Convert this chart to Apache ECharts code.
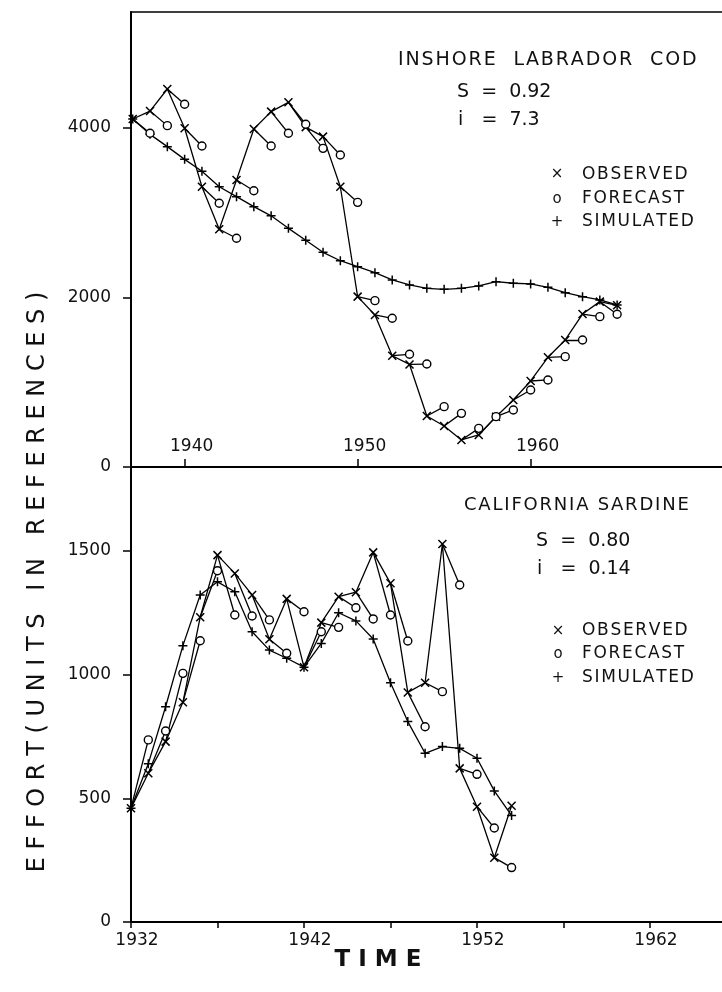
<!DOCTYPE html>
<html>
<head>
<meta charset="utf-8">
<script src="https://cdn.jsdelivr.net/npm/echarts@6/dist/echarts.min.js"></script>
<style>
    html, body { margin: 0; padding: 0; background: #fff; }
    #chart { width: 722px; height: 992px; }
</style>
</head>
<body>
<div id="chart"></div>
<script>
    // inshore labrador cod, one value a year
    var codYears = [1937, 1938, 1939, 1940, 1941, 1942, 1943, 1944, 1945, 1946, 1947, 1948, 1949, 1950, 1951,
        1952, 1953, 1954, 1955, 1956, 1957, 1958, 1959, 1960, 1961, 1962, 1963, 1964, 1965];
    var codObserved = [4106, 4200, 4460, 3997, 3307, 2805, 3387, 3988, 4193, 4303, 4010, 3898, 3307, 2010, 1794,
        1313, 1210, 602, 484, 319, 378, 594, 791, 1015, 1294, 1499, 1805, 1951, 1908];
    // forecast for 1938..1965, made from the year before
    var codForecast = [3938, 4028, 4280, 3788, 3112, 2699, 3260, 3788, 3938, 4044, 3760, 3682, 3123, 1963,
        1755, 1330, 1215, 712, 633, 456, 594, 673, 909, 1027, 1302, 1499, 1774, 1802];
    var codSimulated = [4106, 3925, 3780, 3630, 3490, 3307, 3190, 3072, 2964, 2816, 2675, 2533, 2434, 2363, 2293,
        2207, 2148, 2108, 2097, 2108, 2136, 2187, 2168, 2160, 2120, 2057, 2010, 1971, 1912];

    // california sardine
    var sardYears = [1932, 1933, 1934, 1935, 1936, 1937, 1938, 1939, 1940, 1941, 1942, 1943, 1944, 1945, 1946,
        1947, 1948, 1949, 1950, 1951, 1952, 1953, 1954];
    var sardObserved = [460, 601, 729, 888, 1232, 1483, 1409, 1322, 1143, 1306, 1030, 1210, 1315, 1333, 1494,
        1369, 928, 967, 1528, 621, 466, 260, 470];
    // forecast for 1933..1954
    var sardForecast = [736, 772, 1005, 1137, 1420, 1241, 1237, 1221, 1086, 1254, 1173, 1191, 1270, 1225,
        1241, 1136, 789, 931, 1362, 597, 380, 220];
    var sardSimulated = [460, 640, 870, 1117, 1322, 1375, 1335, 1173, 1099, 1066, 1030, 1126, 1250, 1217, 1144,
        967, 810, 682, 709, 702, 662, 530, 430];

    var codYTicks = [0, 2000, 4000];
    var codXTicks = [1940, 1950, 1960];
    var sardYTicks = [0, 500, 1000, 1500];
    var sardXLabels = [1932, 1942, 1952, 1962];
    var sardXTicks = [1932, 1937, 1942, 1947, 1952, 1957, 1962];

    var chart = echarts.init(document.getElementById('chart'), null, {renderer: 'canvas'});

    var FONT = 'DejaVu Sans';
    var CROSS = 'path://M0,0L10,10M10,0L0,10';
    var PLUS = 'path://M5,0L5,10M0,5L10,5';
    var PX_PER_YEAR = 17.3;
    var PLOT_W = 591;

    function pairs(xs, ys) {
        var out = [];
        for (var i = 0; i < xs.length; i++) out.push([xs[i], ys[i]]);
        return out;
    }
    // short segment from last year's observed point to this year's forecast
    function fcSegments(xs, obs, fc) {
        var out = [];
        for (var i = 1; i < xs.length; i++) {
            out.push({coords: [[xs[i - 1], obs[i - 1]], [xs[i], fc[i - 1]]]});
        }
        return out;
    }
    // the lettering in the figure is widely spaced
    function spaced(s) {
        return s.split('').join('\u200A');
    }
    function plain(v) { return String(v); }

    function xAxisBase(grid, min) {
        return {
            type: 'value', gridIndex: grid, min: min, max: min + PLOT_W / PX_PER_YEAR,
            splitLine: {show: false},
            axisLine: {show: true, onZero: false, lineStyle: {color: '#000', width: 2}}
        };
    }
    function yAxisBase(grid, max, ticks) {
        return {
            type: 'value', gridIndex: grid, min: 0, max: max,
            splitLine: {show: false},
            axisLine: {show: true, onZero: false, lineStyle: {color: '#000', width: 2}},
            axisTick: {show: true, length: 8, customValues: ticks, lineStyle: {color: '#000', width: 1.5}},
            axisLabel: {customValues: ticks, formatter: plain, margin: 20, fontSize: 17, fontFamily: FONT, color: '#111'}
        };
    }

    var codX = xAxisBase(0, 1936.9);
    codX.axisTick = {show: true, inside: true, length: 8, customValues: codXTicks, lineStyle: {color: '#000', width: 1.5}};
    codX.axisLabel = {inside: true, customValues: codXTicks, formatter: plain, margin: 12, fontSize: 17,
        fontFamily: FONT, color: '#111', padding: [0, 0, 0, 14]};

    var sardX = xAxisBase(1, 1932);
    sardX.axisTick = {show: true, length: 6, customValues: sardXTicks, lineStyle: {color: '#000', width: 1.5}};
    sardX.axisLabel = {customValues: sardXLabels, formatter: plain, margin: 10, fontSize: 17,
        fontFamily: FONT, color: '#111', padding: [0, 0, 0, 12]};

    // top edge of the upper frame
    var codTop = xAxisBase(0, 1936.9);
    codTop.position = 'top';
    codTop.axisLine.lineStyle.width = 1.5;
    codTop.axisTick = {show: false};
    codTop.axisLabel = {show: false};

    var lineStyle = {color: '#000', width: 1.3};
    var markStyle = {color: '#000', borderColor: '#000', borderWidth: 1.5};

    function panelSeries(xi, yi, xs, obs, fc, sim) {
        return [
            {
                type: 'line', xAxisIndex: xi, yAxisIndex: yi, data: pairs(xs, sim),
                symbol: PLUS, symbolSize: 9, lineStyle: lineStyle, itemStyle: markStyle, z: 3, silent: true
            },
            {
                type: 'line', xAxisIndex: xi, yAxisIndex: yi, data: pairs(xs, obs),
                symbol: CROSS, symbolSize: 8, lineStyle: lineStyle, itemStyle: markStyle, z: 4, silent: true
            },
            {
                type: 'lines', coordinateSystem: 'cartesian2d', xAxisIndex: xi, yAxisIndex: yi,
                data: fcSegments(xs, obs, fc), lineStyle: {color: '#000', width: 1.3, opacity: 1}, z: 4, silent: true
            },
            {
                type: 'scatter', xAxisIndex: xi, yAxisIndex: yi, data: pairs(xs.slice(1), fc),
                symbol: 'circle', symbolSize: 8, itemStyle: {color: '#fff', borderColor: '#000', borderWidth: 1.4, opacity: 1},
                z: 5, silent: true
            }
        ];
    }

    function txt(x, y, s, size, extra) {
        var st = {text: s, x: 0, y: 0, fill: '#111', font: (size || 19) + 'px "' + FONT + '"', verticalAlign: 'middle'};
        if (extra) for (var k in extra) st[k] = extra[k];
        return {type: 'text', x: x, y: y, style: st, z: 10};
    }

    var options = {
        animation: false,
        backgroundColor: '#fff',
        grid: [
            {left: 131, right: 0, top: 12, height: 455},
            {left: 131, right: 0, top: 467, height: 455}
        ],
        xAxis: [codX, sardX, codTop],
        yAxis: [
            yAxisBase(0, 455 / 169.5 * 2000, codYTicks),
            yAxisBase(1, 455 / 123.7 * 500, sardYTicks)
        ],
        series: panelSeries(0, 0, codYears, codObserved, codForecast, codSimulated)
            .concat(panelSeries(1, 1, sardYears, sardObserved, sardForecast, sardSimulated)),
        graphic: [
            txt(398, 60, spaced('INSHORE  LABRADOR  COD')),
            txt(457, 92, 'S  =  0.92'),
            txt(458, 120, 'i   =  7.3'),
            txt(557, 174, '×', 15, {align: 'center'}),
            txt(557, 199, 'o', 15, {align: 'center'}),
            txt(557, 222, '+', 15, {align: 'center'}),
            txt(582, 175, spaced('OBSERVED'), 17),
            txt(582, 199, spaced('FORECAST'), 17),
            txt(582, 222, spaced('SIMULATED'), 17),

            txt(464, 505, spaced('CALIFORNIA SARDINE'), 18),
            txt(536, 541, 'S  =  0.80'),
            txt(537, 569, 'i   =  0.14'),
            txt(558, 631, '×', 15, {align: 'center'}),
            txt(558, 654, 'o', 15, {align: 'center'}),
            txt(558, 678, '+', 15, {align: 'center'}),
            txt(582, 631, spaced('OBSERVED'), 17),
            txt(582, 654, spaced('FORECAST'), 17),
            txt(582, 678, spaced('SIMULATED'), 17),

            {
                type: 'text', x: 38, y: 582, rotation: Math.PI / 2, z: 10,
                style: {text: 'E F F O R T ( U N I T S   I N   R E F E R E N C E S )', fill: '#111',
                    font: '24px "' + FONT + '"', align: 'center', verticalAlign: 'middle'}
            },
            txt(378, 960, 'T I M E', 24, {align: 'center', font: 'bold 23px "' + FONT + '"'})
        ]
    };
    chart.setOption(options);
</script>
</body>
</html>
